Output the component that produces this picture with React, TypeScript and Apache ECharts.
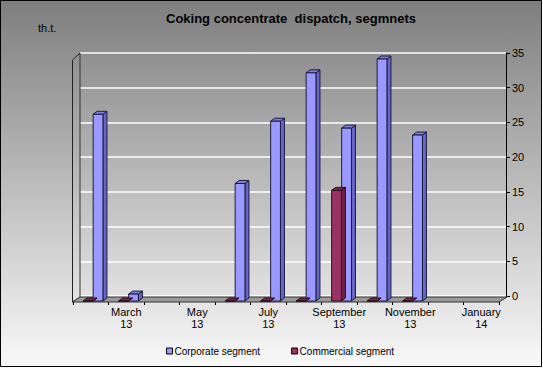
import React, { useEffect, useRef } from "react";
import * as echarts from "echarts";

const months = ["February", "March", "April", "May", "June", "July", "August", "September", "October", "November", "December", "January"];
const years = ["13", "13", "13", "13", "13", "13", "13", "13", "13", "13", "13", "14"];
const corporate: (number | null)[] = [27, 1, null, null, 17, 26, 33, 25, 35, 24, null, null];
const commercial: (number | null)[] = [0, 0, null, null, 0, 0, 0, 16, 0, 0, null, null];
const yTicks = { min: 0, max: 35, interval: 5 };

const categories = months.map((m, i) => m + "\n" + years[i]);
const FONT = "'Liberation Sans', Arial, sans-serif";

const DX = 4;
const DY = 3;
const BW = 9.8;

function make3D(offset: number, front: string, side: string, topc: string, stroke: string) {
  return (params: any, api: any) => {
    const idx = api.value(0);
    const val = api.value(1);
    const base = api.coord([idx, 0]);
    const top = api.coord([idx, val]);
    const x0 = base[0] + offset;
    const x1 = x0 + BW;
    const yb = base[1];
    const yt = top[1];
    const st = { stroke, lineWidth: 1 };
    return {
      type: "group",
      children: [
        {
          type: "polygon",
          shape: { points: [[x1, yt], [x1 + DX, yt - DY], [x1 + DX, yb - DY], [x1, yb]] },
          style: { fill: side, ...st },
        },
        {
          type: "polygon",
          shape: { points: [[x0, yt], [x0 + DX, yt - DY], [x1 + DX, yt - DY], [x1, yt]] },
          style: { fill: topc, ...st },
        },
        {
          type: "rect",
          shape: { x: x0, y: yt, width: BW, height: yb - yt },
          style: { fill: front, ...st },
        },
      ],
    };
  };
}

const toPairs = (arr: (number | null)[]) =>
  arr.map((v, i) => (v === null ? null : [i, v])).filter((d) => d !== null);

export default function App() {
  const ref = useRef<HTMLDivElement>(null);
  useEffect(() => {
    if (!ref.current) return;
    const chart = echarts.init(ref.current, null, { renderer: "svg" });
    chart.setOption({
      animation: false,
      backgroundColor: new echarts.graphic.LinearGradient(0, 0, 0, 1, [
        { offset: 0, color: "#7e7e7e" },
        { offset: 1, color: "#f9f9f9" },
      ]),
      textStyle: { fontFamily: FONT },
      title: {
        text: "Coking concentrate  dispatch, segmnets",
        left: 166,
        top: 12,
        padding: 0,
        textStyle: { fontSize: 13, fontWeight: "bold", color: "#000", fontFamily: FONT },
      },
      legend: {
        left: 166,
        top: 346,
        padding: 0,
        itemWidth: 6,
        itemHeight: 6,
        itemGap: 31,
        icon: "rect",
        textStyle: { fontSize: 10, color: "#000", fontFamily: FONT, padding: [0, 0, 0, -3] },
        data: [
          { name: "Corporate segment", itemStyle: { color: "#9999ff", borderColor: "#000", borderWidth: 1 } },
          { name: "Commercial segment", itemStyle: { color: "#993366", borderColor: "#000", borderWidth: 1 } },
        ],
      },
      grid: [
        { left: 80, right: 36, top: 53, bottom: 71 },
        { left: 73, right: 43, top: 59, bottom: 66 },
      ],
      xAxis: [
        { type: "category", gridIndex: 0, data: categories, show: false },
        {
          type: "category",
          gridIndex: 1,
          data: categories,
          axisLine: { lineStyle: { color: "#000", width: 1 } },
          axisTick: { show: true, length: 4, interval: 0, lineStyle: { color: "#000" } },
          axisLabel: {
            interval: (index: number) => index % 2 === 1,
            color: "#000",
            fontSize: 11,
            fontFamily: FONT,
            lineHeight: 12,
            margin: 5,
          },
          splitLine: { show: false },
        },
      ],
      yAxis: [
        {
          type: "value",
          gridIndex: 0,
          position: "right",
          min: yTicks.min,
          max: yTicks.max,
          interval: yTicks.interval,
          axisLine: { show: true, lineStyle: { color: "#000" } },
          axisTick: { show: true, length: 4, lineStyle: { color: "#000" } },
          axisLabel: { color: "#000", fontSize: 11, margin: 6, fontFamily: FONT },
          splitLine: { show: true, lineStyle: { color: "#ffffff", width: 1.5 } },
        },
        {
          type: "value",
          gridIndex: 1,
          min: yTicks.min,
          max: yTicks.max,
          interval: yTicks.interval,
          show: false,
          splitLine: { show: false },
        },
      ],
      graphic: [
        {
          type: "polygon",
          z: 1,
          shape: { points: [[72, 302], [80, 297], [507, 297], [499, 302]] },
          style: { fill: "#9a9a9a", stroke: "#333", lineWidth: 1 },
        },
        {
          type: "polyline",
          z: 1,
          shape: { points: [[72.5, 302], [72.5, 60], [80, 53]] },
          style: { stroke: "#222", lineWidth: 1, fill: "none" },
        },
        {
          type: "line",
          z: 1,
          shape: { x1: 80, y1: 53, x2: 80, y2: 297 },
          style: { stroke: "#333", lineWidth: 1 },
        },
        {
          type: "text",
          left: 38,
          top: 22,
          style: { text: "th.t.", fontSize: 11, fill: "#000", fontFamily: FONT },
        },
        {
          type: "rect",
          z: 10,
          shape: { x: 0.5, y: 0.5, width: 541, height: 366 },
          style: { fill: "none", stroke: "#000", lineWidth: 1 },
        },
      ],
      series: [
        {
          name: "Corporate segment",
          type: "custom",
          xAxisIndex: 1,
          yAxisIndex: 1,
          z: 5,
          itemStyle: { color: "#9999ff" },
          renderItem: make3D(2.4, "#9999ff", "#6666c4", "#8080e0", "#1c1c3c"),
          data: toPairs(corporate),
        },
        {
          name: "Commercial segment",
          type: "custom",
          xAxisIndex: 1,
          yAxisIndex: 1,
          z: 5,
          itemStyle: { color: "#993366" },
          renderItem: make3D(-7.6, "#993366", "#6b2447", "#7a2852", "#2a0f1e"),
          data: toPairs(commercial),
        },
      ],
    });
    return () => chart.dispose();
  }, []);
  return (
    <div style={{ position: "absolute", left: 0, top: 0, width: 543, height: 368, background: "#fff" }}>
      <div ref={ref} style={{ width: 542, height: 367 }} />
    </div>
  );
}
